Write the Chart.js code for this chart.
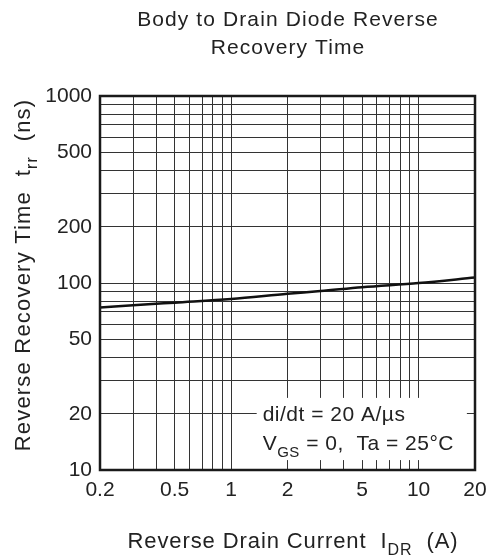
<!DOCTYPE html>
<html><head><meta charset="utf-8">
<script src="https://cdn.jsdelivr.net/npm/chart.js@4.4.0/dist/chart.umd.min.js"></script>
<style>html,body{margin:0;padding:0;background:#fff}#wrap{width:489px;height:560px;position:relative}</style>
</head><body><div id="wrap"><canvas id="c"></canvas></div>
<script>
const currentA = [0.2, 0.3, 0.5, 1, 2, 3, 5, 10, 20];
const trrNs = [74, 76, 78.5, 82, 87.5, 90.5, 95, 100, 107];
const xTickLabels = [0.2, 0.5, 1, 2, 5, 10, 20];
const yTickLabels = [10, 20, 50, 100, 200, 500, 1000];
const xGridValues = [0.2,0.3,0.4,0.5,0.6,0.7,0.8,0.9,1,2,3,4,5,6,7,8,9,10,20];
const yGridValues = [10,20,30,40,50,60,70,80,90,100,200,300,400,500,600,700,800,900,1000];
const titleLines = ['Body to Drain Diode Reverse', 'Recovery Time'];
const xTitleParts = [{t:'Reverse Drain Current  I'},{t:'DR',sub:true},{t:'  (A)'}];
const yTitleParts = [{t:'Reverse Recovery Time  t'},{t:'rr',sub:true},{t:'  (ns)'}];
const noteLine1 = [{t:'di/dt = 20 A/\u00b5s'}];
const noteLine2 = [{t:'V'},{t:'GS',sub:true},{t:' = 0,  Ta = 25\u00b0C'}];

const FONT = "'Liberation Sans', Arial, Helvetica, sans-serif";

function drawRich(ctx, parts, x, y, size, align, spacing) {
  const subSize = Math.round(size * 0.72);
  ctx.letterSpacing = (spacing || 0) + 'px';
  let w = 0;
  parts.forEach(p => { ctx.font = (p.sub ? subSize : size) + 'px ' + FONT; w += ctx.measureText(p.t).width; });
  let cx = align === 'center' ? x - w / 2 : x;
  ctx.textBaseline = 'alphabetic';
  ctx.textAlign = 'left';
  parts.forEach(p => {
    ctx.font = (p.sub ? subSize : size) + 'px ' + FONT;
    ctx.fillText(p.t, cx, p.sub ? y + size * 0.3 : y);
    cx += ctx.measureText(p.t).width;
  });
  ctx.letterSpacing = '0px';
}

const decor = {
  id: 'decor',
  beforeDatasetsDraw(chart) {
    const ctx = chart.ctx;
    const xs = chart.scales.x, ys = chart.scales.y;
    ctx.save();
    ctx.fillStyle = '#fff';
    const bx0 = xs.getPixelForValue(1.37), bx1 = xs.getPixelForValue(18.1);
    const by0 = ys.getPixelForValue(24.3), by1 = ys.getPixelForValue(11.3);
    ctx.fillRect(bx0, by0, bx1 - bx0, by1 - by0);
    ctx.restore();
  },
  afterDraw(chart) {
    const ctx = chart.ctx;
    const a = chart.chartArea;
    const xs = chart.scales.x, ys = chart.scales.y;
    ctx.save();
    ctx.strokeStyle = '#1a1a1a';
    ctx.lineWidth = 2.5;
    ctx.strokeRect(a.left, a.top, a.right - a.left, a.bottom - a.top);
    ctx.fillStyle = '#222';
    drawRich(ctx, [{t: titleLines[0]}], 288, 26, 21, 'center', 1.1);
    drawRich(ctx, [{t: titleLines[1]}], 288, 54, 21, 'center', 1.1);
    drawRich(ctx, xTitleParts, 293, 548, 22, 'center', 0.9);
    ctx.translate(30, (a.top + a.bottom) / 2 - 8);
    ctx.rotate(-Math.PI / 2);
    drawRich(ctx, yTitleParts, 0, 0, 22, 'center', 1.2);
    ctx.restore();
    ctx.save();
    ctx.fillStyle = '#222';
    const nx = xs.getPixelForValue(1.37) + 6;
    drawRich(ctx, noteLine1, nx, ys.getPixelForValue(20) + 7, 21, 'left', 0.5);
    drawRich(ctx, noteLine2, nx, ys.getPixelForValue(13.9) + 7, 21, 'left', 0.5);
    ctx.restore();
  }
};

new Chart(document.getElementById('c'), {
  type: 'line',
  data: {
    datasets: [{
      data: currentA.map((x, i) => ({x, y: trrNs[i]})),
      borderColor: '#111',
      borderWidth: 2.5,
      pointRadius: 0,
      cubicInterpolationMode: 'monotone',
      fill: false
    }]
  },
  options: {
    responsive: true,
    maintainAspectRatio: false,
    animation: false,
    devicePixelRatio: 1,
    layout: {padding: {left: 0, right: 14, top: 96, bottom: 0}},
    plugins: {legend: {display: false}, tooltip: {enabled: false}, title: {display: false}},
    scales: {
      x: {
        type: 'logarithmic', min: 0.2, max: 20,
        afterBuildTicks(s) { s.ticks = xGridValues.map(v => ({value: v})); },
        afterFit(s) { s.height = 90; s.paddingLeft = 0; s.paddingRight = 0; },
        ticks: {
          autoSkip: false, maxRotation: 0, minRotation: 0, padding: 8,
          color: '#222', font: {family: FONT, size: 21},
          callback: (v) => xTickLabels.includes(v) ? String(v) : ''
        },
        grid: {color: '#333', lineWidth: 1, drawTicks: false},
        border: {display: false}
      },
      y: {
        type: 'logarithmic', min: 10, max: 1000,
        afterBuildTicks(s) { s.ticks = yGridValues.map(v => ({value: v})); },
        afterFit(s) { s.width = 100; s.paddingTop = 0; s.paddingBottom = 0; },
        ticks: {
          autoSkip: false, padding: 8,
          color: '#222', font: {family: FONT, size: 21},
          callback: (v) => yTickLabels.includes(v) ? String(v) : ''
        },
        grid: {color: '#333', lineWidth: 1, drawTicks: false},
        border: {display: false}
      }
    }
  },
  plugins: [decor]
});
</script></body></html>
